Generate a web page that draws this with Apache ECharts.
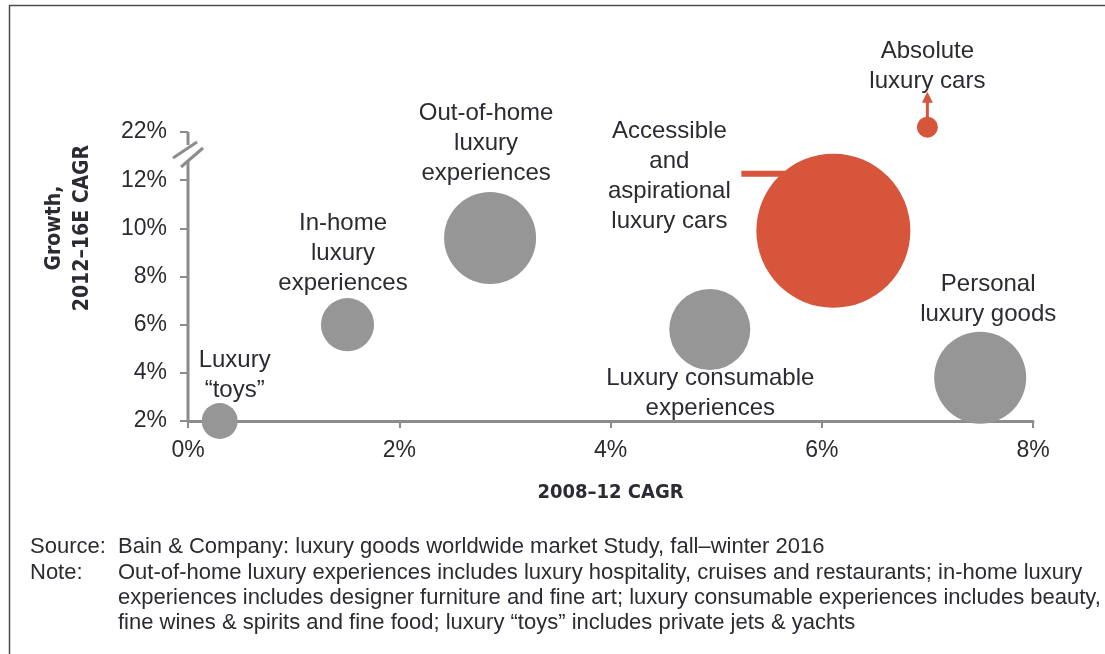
<!DOCTYPE html>
<html><head><meta charset="utf-8">
<script src="https://cdn.jsdelivr.net/npm/echarts@6/dist/echarts.min.js"></script>
<style>html,body{margin:0;padding:0;background:#fff}#c{width:1105px;height:654px}</style>
</head><body><div id="c"></div>
<script>
// ---- data ----
const segments = ['Luxury\n“toys”', 'In-home\nluxury\nexperiences', 'Out-of-home\nluxury\nexperiences',
  'Luxury consumable\nexperiences', 'Accessible\nand\naspirational\nluxury cars', 'Personal\nluxury goods',
  'Absolute\nluxury cars'];
const cagr2008_12 = [0.3, 1.51, 2.86, 4.94, 6.11, 7.5, 7.0];      // x, %
const growth2012_16 = [2.0, 6.0, 9.6, 5.8, 9.9, 3.8, 23.0];        // y, %
const marketSize = [38, 83, 249, 193, 698, 249, 13];               // bubble area
const isCars = [false, false, false, false, true, false, true];
const xTickLabels = ['0%', '2%', '4%', '6%', '8%'];
const yTickLabels = ['2%', '4%', '6%', '8%', '10%', '12%', '22%'];

// ---- styles ----
const FONT = "'Liberation Sans', Arial, sans-serif";
const CONDENSED = "'Liberation Sans Narrow', 'DejaVu Sans Condensed', 'Liberation Sans', sans-serif";
const TXT = '#2b2b33';
const AXIS = '#8c8c8c';
const GREY = '#969696';
const RED = '#d6553b';
const SIZE_K = 5.83;
// label centre offsets from bubble centre (px)
const labelOffsets = [[15, -45.5], [-4.5, -71.5], [-4, -95], [0.5, 64], [-164, -54.5], [8, -78], [0, -61]];

// axis break: values above 12% are compressed so 22% sits one interval above 12%
const toAxis = v => v <= 12 ? v : 12 + (v - 12) / 5;

const data = segments.map((n, i) => {
  const r = SIZE_K * Math.sqrt(marketSize[i]) / 2;
  return {
    name: n,
    value: [cagr2008_12[i], toAxis(growth2012_16[i]), marketSize[i]],
    itemStyle: { color: isCars[i] ? RED : GREY },
    label: { position: [r + labelOffsets[i][0], r + labelOffsets[i][1]] }
  };
});

const chart = echarts.init(document.getElementById('c'), null, { renderer: 'canvas' });
chart.setOption({
  animation: false,
  grid: { left: 188, right: 72, top: 132, bottom: 233 },
  xAxis: {
    type: 'value', min: 0, max: 8, interval: 2,
    splitLine: { show: false },
    axisLine: { show: true, lineStyle: { color: AXIS, width: 3 } },
    axisTick: { show: true, length: 7, lineStyle: { color: AXIS, width: 2 } },
    axisLabel: { margin: 18, fontSize: 23, fontFamily: FONT, color: TXT,
      formatter: v => xTickLabels[Math.round(v / 2)] }
  },
  yAxis: {
    type: 'value', min: 2, max: 14, interval: 2,
    splitLine: { show: false },
    axisLine: { show: false },
    axisTick: { show: true, length: 8, lineStyle: { color: AXIS, width: 2 } },
    axisLabel: { margin: 21, fontSize: 23, fontFamily: FONT, color: TXT,
      formatter: v => yTickLabels[Math.round((v - 2) / 2)] }
  },
  series: [{
    type: 'scatter',
    clip: false,
    z: 5,
    symbol: 'circle',
    symbolSize: v => SIZE_K * Math.sqrt(v[2]),
    itemStyle: { opacity: 1 },
    label: {
      show: true, formatter: p => p.name, align: 'center', verticalAlign: 'middle',
      fontSize: 24, lineHeight: 30, fontFamily: FONT, color: TXT
    },
    emphasis: { disabled: true },
    data: data
  }]
});

// ---- decorations derived from the chart's own scales ----
const px = (x, y) => chart.convertToPixel({ gridIndex: 0 }, [x, y]);
const [ax, y2] = px(0, 2);
const [, y14] = px(0, 14);
const ri = 4; // red big bubble
const [cx, cy] = px(cagr2008_12[ri], toAxis(growth2012_16[ri]));
const rBig = SIZE_K * Math.sqrt(marketSize[ri]) / 2;
const ai = 6;
const [dx, dy] = px(cagr2008_12[ai], toAxis(growth2012_16[ai]));
const rDot = SIZE_K * Math.sqrt(marketSize[ai]) / 2;

const line = (x1, y1, x2, y2_, color, w, z) => ({
  type: 'line', shape: { x1, y1, x2, y2: y2_ }, style: { stroke: color, lineWidth: w }, z: z || 1, silent: true
});
const text = (x, y, t, opt) => ({
  type: 'text', x, y, silent: true,
  style: Object.assign({ text: t, font: '22px ' + FONT, fill: TXT, textVerticalAlign: 'middle' }, opt || {})
});

chart.setOption({
  graphic: [
    // frame
    line(9.5, 5, 9.5, 654, '#4d4d4d', 1.5),
    line(9, 5.5, 1105, 5.5, '#4d4d4d', 1.5),
    // y axis with break
    line(ax, y2 + 1, ax, y14 + 30, AXIS, 3),
    line(ax, y14, ax, y14 + 13, AXIS, 3),
    line(ax - 15, y14 + 26, ax + 9, y14 + 10, AXIS, 3),
    line(ax - 7, y14 + 35, ax + 15, y14 + 16, AXIS, 3),
    // leader line to accessible cars bubble
    line(cx - rBig - 15, cy - 57, cx - rBig + 30, cy - 57, RED, 6, 0),
    // arrow above absolute luxury cars
    line(dx, dy - rDot + 1, dx, dy - rDot - 15, RED, 3),
    { type: 'polygon', silent: true, shape: { points: [[dx - 5.5, dy - rDot - 14], [dx + 5.5, dy - rDot - 14], [dx, dy - rDot - 25]] },
      style: { fill: RED } },
    // axis titles
    { type: 'text', silent: true, x: 69, y: 228, rotation: Math.PI / 2,
      style: { text: 'Growth,\n2012–16E CAGR', font: 'bold 21px ' + CONDENSED, fill: TXT,
        textAlign: 'center', textVerticalAlign: 'middle', lineHeight: 28 } },
    text((ax + px(8, 2)[0]) / 2, 493, '2008–12 CAGR', { font: 'bold 20px ' + CONDENSED, textAlign: 'center' }),
    // footer
    text(30, 547, 'Source:'),
    text(118, 547, 'Bain & Company: luxury goods worldwide market Study, fall–winter 2016'),
    text(30, 573, 'Note:'),
    text(118, 573, 'Out-of-home luxury experiences includes luxury hospitality, cruises and restaurants; in-home luxury'),
    text(118, 598, 'experiences includes designer furniture and fine art; luxury consumable experiences includes beauty,'),
    text(118, 623, 'fine wines & spirits and fine food; luxury “toys” includes private jets & yachts')
  ]
});
</script></body></html>
